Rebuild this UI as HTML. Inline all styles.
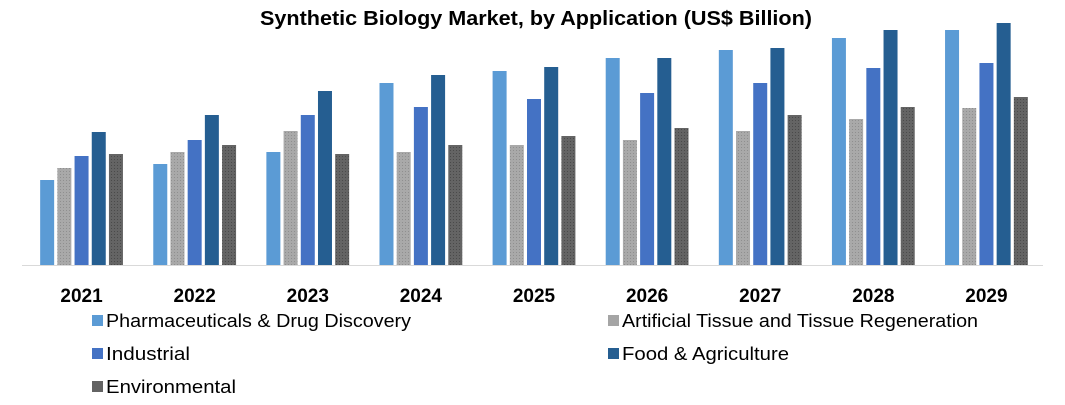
<!DOCTYPE html>
<html><head><meta charset="utf-8"><style>
body{margin:0;background:#fff;}
svg{display:block;font-family:"Liberation Sans",Calibri,sans-serif;}
</style></head><body>
<svg id="chart" width="1065" height="405">
<defs>
<pattern id="hatchLight" width="3" height="3" patternUnits="userSpaceOnUse"><rect width="3" height="3" fill="#a9a9a9"/><rect width="1" height="1" fill="#8f8f8f"/></pattern>
<pattern id="hatchDark" width="3" height="3" patternUnits="userSpaceOnUse"><rect width="3" height="3" fill="#646464"/><rect width="1" height="1" fill="#4a4a4a"/></pattern>
</defs>
<text x="536" y="25" text-anchor="middle" font-size="20" font-weight="bold" fill="#000" textLength="552" lengthAdjust="spacingAndGlyphs">Synthetic Biology Market, by Application (US$ Billion)</text>
<line x1="22" y1="265.5" x2="1043" y2="265.5" stroke="#d9d9d9" stroke-width="1"/>
<g id="bars"></g>
<g id="labels"></g>
<g id="legend"></g>
</svg>
<script>
const categories = ["2021","2022","2023","2024","2025","2026","2027","2028","2029"];
const seriesNames = ["Pharmaceuticals & Drug Discovery","Artificial Tissue and Tissue Regeneration","Industrial","Food & Agriculture","Environmental"];
const pharma = [85,101,113,182,194,207,215,227,235];
const tissue = [97,113,134,113,120,125,134,146,157];
const industrial = [109,125,150,158,166,172,182,197,202];
const food = [133,150,174,190,198,207,217,235,242];
const environmental = [111,120,111,120,129,137,150,158,168];
const series = [pharma, tissue, industrial, food, environmental];
const colors = ["#5b9bd5","url(#hatchLight)","#4472c4","#255e91","url(#hatchDark)"];
const legendColors = ["#5b9bd5","#a5a5a5","#4472c4","#255e91","#636363"];
const legendWidths = [305,356,84,167,130];
const NS = "http://www.w3.org/2000/svg";
const x0 = 25, x1 = 1043, y0 = 265, yScale = 1.0;
const step = (x1 - x0) / categories.length;
const barW = 14, barStep = 17.2;
function xCenter(i){ return x0 + step*(i+0.5); }
function yOf(v){ return y0 - v*yScale; }
const gb = document.getElementById('bars');
const gl = document.getElementById('labels');
categories.forEach((c,i)=>{
  series.forEach((s,k)=>{
    const r = document.createElementNS(NS,'rect');
    const bx = xCenter(i) - (5*barStep - (barStep-barW))/2 + k*barStep;
    r.setAttribute('x', bx);
    r.setAttribute('y', yOf(s[i]));
    r.setAttribute('width', barW);
    r.setAttribute('height', y0 - yOf(s[i]));
    r.setAttribute('fill', colors[k]);
    
    
    gb.appendChild(r);
  });
  const t = document.createElementNS(NS,'text');
  t.setAttribute('x', xCenter(i));
  t.setAttribute('y', 302);
  t.setAttribute('text-anchor','middle');
  t.setAttribute('font-size','19');
  t.setAttribute('font-weight','bold');
  t.textContent = c;
  
  
  gl.appendChild(t);
});
const legPos = [[92,321],[608,321],[92,354],[608,354],[92,387]];
const gL = document.getElementById('legend');
seriesNames.forEach((n,k)=>{
  const g = document.createElementNS(NS,'g');
  
  
  const r = document.createElementNS(NS,'rect');
  r.setAttribute('x', legPos[k][0]); r.setAttribute('y', legPos[k][1]-6);
  r.setAttribute('width', 11); r.setAttribute('height', 11);
  r.setAttribute('fill', legendColors[k]);
  g.appendChild(r);
  const t = document.createElementNS(NS,'text');
  t.setAttribute('x', legPos[k][0]+14); t.setAttribute('y', legPos[k][1]+6);
  t.setAttribute('font-size','18.5'); t.setAttribute('fill','#000');
  t.setAttribute('textLength', legendWidths[k]);
  t.setAttribute('lengthAdjust','spacingAndGlyphs');
  t.textContent = n;
  g.appendChild(t);
  gL.appendChild(g);
});
</script>
</body></html>
